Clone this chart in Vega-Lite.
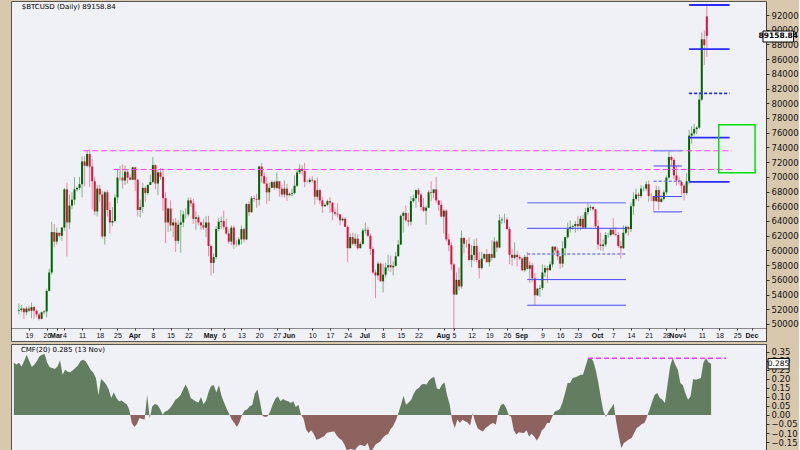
{
"$schema":"https://vega.github.io/schema/vega-lite/v6.json",
"background":"#d8c8ad",
"padding":{"left":10,"top":0,"right":0,"bottom":0},
"spacing":1,
"config":{"view":{"fill":"#f0f0f7","stroke":"#555555","strokeWidth":1},"axis":{"labelFont":"DejaVu Sans","labelColor":"#111111","grid":false,"labelOverlap":false,"labelFlush":false,"labelBound":false}},
"datasets":{"px":[
{"d":"2024-02-15","o":51800,"h":52800,"l":51300,"c":51900,"m":0.29},
{"d":"2024-02-16","o":51900,"h":52600,"l":51600,"c":52100,"m":0.28},
{"d":"2024-02-17","o":52100,"h":52200,"l":50700,"c":51600,"m":0.29},
{"d":"2024-02-18","o":51600,"h":52400,"l":51200,"c":52100,"m":0.27},
{"d":"2024-02-19","o":52100,"h":52500,"l":51600,"c":51800,"m":0.30},
{"d":"2024-02-20","o":51800,"h":52900,"l":50800,"c":52300,"m":0.335},
{"d":"2024-02-21","o":52300,"h":52400,"l":50700,"c":51800,"m":0.30},
{"d":"2024-02-22","o":51800,"h":52000,"l":50900,"c":51300,"m":0.267},
{"d":"2024-02-23","o":51300,"h":51500,"l":50500,"c":50700,"m":0.28},
{"d":"2024-02-24","o":50700,"h":51700,"l":50600,"c":51600,"m":0.30},
{"d":"2024-02-25","o":51600,"h":51900,"l":51300,"c":51700,"m":0.326},
{"d":"2024-02-26","o":51700,"h":54800,"l":50900,"c":54500,"m":0.335},
{"d":"2024-02-27","o":54500,"h":57500,"l":54400,"c":57000,"m":0.339},
{"d":"2024-02-28","o":57000,"h":63900,"l":56700,"c":62500,"m":0.29},
{"d":"2024-02-29","o":62500,"h":63600,"l":60400,"c":61200,"m":0.265},
{"d":"2024-03-01","o":61200,"h":63100,"l":60800,"c":62400,"m":0.261},
{"d":"2024-03-02","o":62400,"h":62400,"l":61700,"c":62000,"m":0.256},
{"d":"2024-03-03","o":62000,"h":63200,"l":61300,"c":63100,"m":0.27},
{"d":"2024-03-04","o":63100,"h":68500,"l":62700,"c":68300,"m":0.304},
{"d":"2024-03-05","o":68300,"h":69200,"l":59200,"c":63800,"m":0.224},
{"d":"2024-03-06","o":63800,"h":67600,"l":62900,"c":66100,"m":0.252},
{"d":"2024-03-07","o":66100,"h":67900,"l":65600,"c":66900,"m":0.24},
{"d":"2024-03-08","o":66900,"h":70000,"l":66200,"c":68300,"m":0.237},
{"d":"2024-03-09","o":68300,"h":68600,"l":68000,"c":68500,"m":0.248},
{"d":"2024-03-10","o":68500,"h":70000,"l":68200,"c":69000,"m":0.261},
{"d":"2024-03-11","o":69000,"h":72800,"l":67200,"c":72100,"m":0.275},
{"d":"2024-03-12","o":72100,"h":72800,"l":68700,"c":71500,"m":0.30},
{"d":"2024-03-13","o":71500,"h":73600,"l":71300,"c":73100,"m":0.307},
{"d":"2024-03-14","o":73100,"h":73750,"l":68600,"c":71400,"m":0.298},
{"d":"2024-03-15","o":71400,"h":72400,"l":65600,"c":69400,"m":0.275},
{"d":"2024-03-16","o":69400,"h":70000,"l":64800,"c":65300,"m":0.25},
{"d":"2024-03-17","o":65300,"h":68900,"l":64600,"c":68400,"m":0.235},
{"d":"2024-03-18","o":68400,"h":68900,"l":66600,"c":67600,"m":0.206},
{"d":"2024-03-19","o":67600,"h":68100,"l":61600,"c":61900,"m":0.11},
{"d":"2024-03-20","o":61900,"h":68100,"l":60800,"c":67900,"m":0.20},
{"d":"2024-03-21","o":67900,"h":68200,"l":64600,"c":65500,"m":0.187},
{"d":"2024-03-22","o":65500,"h":66600,"l":62300,"c":63800,"m":0.169},
{"d":"2024-03-23","o":63800,"h":65900,"l":63300,"c":64000,"m":0.141},
{"d":"2024-03-24","o":64000,"h":67600,"l":63800,"c":67200,"m":0.094},
{"d":"2024-03-25","o":67200,"h":71100,"l":66400,"c":69900,"m":0.126},
{"d":"2024-03-26","o":69900,"h":71500,"l":69500,"c":69900,"m":0.094},
{"d":"2024-03-27","o":69900,"h":71700,"l":68400,"c":69500,"m":0.076},
{"d":"2024-03-28","o":69500,"h":71500,"l":68900,"c":70700,"m":0.08},
{"d":"2024-03-29","o":70700,"h":70900,"l":69100,"c":69900,"m":0.07},
{"d":"2024-03-30","o":69900,"h":70300,"l":69600,"c":69600,"m":0.06},
{"d":"2024-03-31","o":69600,"h":71300,"l":69600,"c":71300,"m":0.03},
{"d":"2024-04-01","o":71300,"h":71300,"l":68100,"c":69600,"m":-0.045},
{"d":"2024-04-02","o":69600,"h":69700,"l":64600,"c":65500,"m":-0.067},
{"d":"2024-04-03","o":65500,"h":66900,"l":64500,"c":65900,"m":-0.05},
{"d":"2024-04-04","o":65900,"h":69200,"l":65100,"c":68500,"m":-0.017},
{"d":"2024-04-05","o":68500,"h":68700,"l":66600,"c":67800,"m":-0.022},
{"d":"2024-04-06","o":67800,"h":69000,"l":67500,"c":68900,"m":-0.025},
{"d":"2024-04-07","o":68900,"h":70300,"l":68900,"c":69300,"m":0.113},
{"d":"2024-04-08","o":69300,"h":72700,"l":69100,"c":71600,"m":-0.02},
{"d":"2024-04-09","o":71600,"h":71700,"l":68300,"c":69100,"m":0.048},
{"d":"2024-04-10","o":69100,"h":71000,"l":67500,"c":70600,"m":0.061},
{"d":"2024-04-11","o":70600,"h":71200,"l":69600,"c":70000,"m":0.055},
{"d":"2024-04-12","o":70000,"h":71200,"l":65400,"c":67100,"m":0.035},
{"d":"2024-04-13","o":67100,"h":67900,"l":61000,"c":63800,"m":0.002},
{"d":"2024-04-14","o":63800,"h":65800,"l":62500,"c":65700,"m":0.02},
{"d":"2024-04-15","o":65700,"h":66800,"l":62600,"c":63400,"m":0.025},
{"d":"2024-04-16","o":63400,"h":64300,"l":61800,"c":63800,"m":0.04},
{"d":"2024-04-17","o":63800,"h":64400,"l":59800,"c":61300,"m":0.06},
{"d":"2024-04-18","o":61300,"h":64100,"l":60900,"c":63500,"m":0.085},
{"d":"2024-04-19","o":63500,"h":65500,"l":59700,"c":63800,"m":0.094},
{"d":"2024-04-20","o":63800,"h":65400,"l":63200,"c":64900,"m":0.11},
{"d":"2024-04-21","o":64900,"h":65700,"l":64300,"c":64900,"m":0.14},
{"d":"2024-04-22","o":64900,"h":67200,"l":64600,"c":66800,"m":0.169},
{"d":"2024-04-23","o":66800,"h":67200,"l":65900,"c":66400,"m":0.14},
{"d":"2024-04-24","o":66400,"h":67000,"l":63600,"c":64300,"m":0.094},
{"d":"2024-04-25","o":64300,"h":65300,"l":62800,"c":64500,"m":0.085},
{"d":"2024-04-26","o":64500,"h":64800,"l":63400,"c":63800,"m":0.075},
{"d":"2024-04-27","o":63800,"h":63900,"l":62800,"c":63400,"m":0.07},
{"d":"2024-04-28","o":63400,"h":64300,"l":62800,"c":63100,"m":0.1},
{"d":"2024-04-29","o":63100,"h":64700,"l":61800,"c":63800,"m":0.06},
{"d":"2024-04-30","o":63800,"h":64700,"l":59200,"c":60600,"m":0.08},
{"d":"2024-05-01","o":60600,"h":60800,"l":56600,"c":58300,"m":0.13},
{"d":"2024-05-02","o":58300,"h":59600,"l":56900,"c":59100,"m":0.162},
{"d":"2024-05-03","o":59100,"h":63300,"l":58800,"c":62900,"m":0.165},
{"d":"2024-05-04","o":62900,"h":64400,"l":62600,"c":63900,"m":0.125},
{"d":"2024-05-05","o":63900,"h":64600,"l":62900,"c":64000,"m":0.165},
{"d":"2024-05-06","o":64000,"h":65400,"l":62800,"c":63200,"m":0.105},
{"d":"2024-05-07","o":63200,"h":64300,"l":62100,"c":62300,"m":0.07},
{"d":"2024-05-08","o":62300,"h":62900,"l":60900,"c":61200,"m":0.035},
{"d":"2024-05-09","o":61200,"h":63400,"l":60700,"c":63100,"m":0.005},
{"d":"2024-05-10","o":63100,"h":63400,"l":60200,"c":60800,"m":-0.025},
{"d":"2024-05-11","o":60800,"h":61400,"l":60500,"c":60800,"m":-0.044},
{"d":"2024-05-12","o":60800,"h":61800,"l":60600,"c":61500,"m":-0.067},
{"d":"2024-05-13","o":61500,"h":63400,"l":60800,"c":62900,"m":-0.04},
{"d":"2024-05-14","o":62900,"h":63100,"l":61100,"c":61500,"m":0.0},
{"d":"2024-05-15","o":61500,"h":66400,"l":61400,"c":66300,"m":0.025},
{"d":"2024-05-16","o":66300,"h":66700,"l":64700,"c":65200,"m":0.03},
{"d":"2024-05-17","o":65200,"h":67400,"l":65100,"c":67100,"m":0.048},
{"d":"2024-05-18","o":67100,"h":67400,"l":66600,"c":67000,"m":0.055},
{"d":"2024-05-19","o":67000,"h":67700,"l":65800,"c":66900,"m":0.12},
{"d":"2024-05-20","o":66900,"h":71500,"l":66100,"c":71400,"m":0.141},
{"d":"2024-05-21","o":71400,"h":71900,"l":69200,"c":70100,"m":0.075},
{"d":"2024-05-22","o":70100,"h":70600,"l":69000,"c":69100,"m":-0.004},
{"d":"2024-05-23","o":69100,"h":70000,"l":66300,"c":67900,"m":-0.011},
{"d":"2024-05-24","o":67900,"h":69200,"l":66700,"c":68500,"m":-0.007},
{"d":"2024-05-25","o":68500,"h":69500,"l":68500,"c":69300,"m":0.02},
{"d":"2024-05-26","o":69300,"h":69500,"l":68200,"c":68500,"m":0.06},
{"d":"2024-05-27","o":68500,"h":70600,"l":68300,"c":69400,"m":0.09},
{"d":"2024-05-28","o":69400,"h":69400,"l":67300,"c":68400,"m":0.104},
{"d":"2024-05-29","o":68400,"h":68900,"l":67200,"c":67600,"m":0.076},
{"d":"2024-05-30","o":67600,"h":69500,"l":67200,"c":68400,"m":0.089},
{"d":"2024-05-31","o":68400,"h":69000,"l":66700,"c":67500,"m":0.081},
{"d":"2024-06-01","o":67500,"h":67900,"l":67400,"c":67700,"m":0.077},
{"d":"2024-06-02","o":67700,"h":68400,"l":67300,"c":67800,"m":0.067},
{"d":"2024-06-03","o":67800,"h":70200,"l":67600,"c":68800,"m":0.076},
{"d":"2024-06-04","o":68800,"h":71000,"l":68600,"c":70600,"m":0.044},
{"d":"2024-06-05","o":70600,"h":71700,"l":70400,"c":71100,"m":0.057},
{"d":"2024-06-06","o":71100,"h":71600,"l":70200,"c":70800,"m":0.002},
{"d":"2024-06-07","o":70800,"h":71900,"l":68600,"c":69300,"m":-0.02},
{"d":"2024-06-08","o":69300,"h":69600,"l":69200,"c":69300,"m":-0.08},
{"d":"2024-06-09","o":69300,"h":69900,"l":69100,"c":69600,"m":-0.1},
{"d":"2024-06-10","o":69600,"h":70100,"l":69200,"c":69500,"m":-0.085},
{"d":"2024-06-11","o":69500,"h":69500,"l":66200,"c":67300,"m":-0.105},
{"d":"2024-06-12","o":67300,"h":69900,"l":66900,"c":68200,"m":-0.137},
{"d":"2024-06-13","o":68200,"h":68400,"l":66300,"c":66800,"m":-0.133},
{"d":"2024-06-14","o":66800,"h":67300,"l":65100,"c":66000,"m":-0.125},
{"d":"2024-06-15","o":66000,"h":66400,"l":65900,"c":66200,"m":-0.119},
{"d":"2024-06-16","o":66200,"h":66900,"l":66000,"c":66700,"m":-0.1},
{"d":"2024-06-17","o":66700,"h":67200,"l":65100,"c":66500,"m":-0.096},
{"d":"2024-06-18","o":66500,"h":66500,"l":64100,"c":65200,"m":-0.093},
{"d":"2024-06-19","o":65200,"h":65700,"l":64700,"c":65000,"m":-0.091},
{"d":"2024-06-20","o":65000,"h":66400,"l":64500,"c":64900,"m":-0.115},
{"d":"2024-06-21","o":64900,"h":65000,"l":63400,"c":64100,"m":-0.13},
{"d":"2024-06-22","o":64100,"h":64500,"l":63900,"c":64300,"m":-0.14},
{"d":"2024-06-23","o":64300,"h":64500,"l":63200,"c":63200,"m":-0.165},
{"d":"2024-06-24","o":63200,"h":63400,"l":58400,"c":60300,"m":-0.202},
{"d":"2024-06-25","o":60300,"h":62300,"l":60300,"c":61800,"m":-0.189},
{"d":"2024-06-26","o":61800,"h":62400,"l":60700,"c":60900,"m":-0.19},
{"d":"2024-06-27","o":60900,"h":62300,"l":60600,"c":61600,"m":-0.196},
{"d":"2024-06-28","o":61600,"h":62200,"l":60100,"c":60300,"m":-0.178},
{"d":"2024-06-29","o":60300,"h":61200,"l":60300,"c":60900,"m":-0.165},
{"d":"2024-06-30","o":60900,"h":63000,"l":60700,"c":62700,"m":-0.17},
{"d":"2024-07-01","o":62700,"h":63800,"l":62300,"c":62800,"m":-0.174},
{"d":"2024-07-02","o":62800,"h":63200,"l":61800,"c":62000,"m":-0.156},
{"d":"2024-07-03","o":62000,"h":62300,"l":59400,"c":60200,"m":-0.2},
{"d":"2024-07-04","o":60200,"h":60500,"l":56800,"c":57000,"m":-0.19},
{"d":"2024-07-05","o":57000,"h":57400,"l":53500,"c":56600,"m":-0.165},
{"d":"2024-07-06","o":56600,"h":58500,"l":56000,"c":58200,"m":-0.156},
{"d":"2024-07-07","o":58200,"h":58400,"l":55800,"c":55800,"m":-0.146},
{"d":"2024-07-08","o":55800,"h":58200,"l":54300,"c":56700,"m":-0.125},
{"d":"2024-07-09","o":56700,"h":58300,"l":56300,"c":57700,"m":-0.112},
{"d":"2024-07-10","o":57700,"h":59400,"l":57200,"c":58000,"m":-0.105},
{"d":"2024-07-11","o":58000,"h":59300,"l":57100,"c":57700,"m":-0.078},
{"d":"2024-07-12","o":57700,"h":58500,"l":56600,"c":57900,"m":-0.06},
{"d":"2024-07-13","o":57900,"h":59800,"l":57800,"c":59200,"m":-0.03},
{"d":"2024-07-14","o":59200,"h":61400,"l":59200,"c":60800,"m":0.01},
{"d":"2024-07-15","o":60800,"h":64900,"l":60700,"c":64700,"m":0.057},
{"d":"2024-07-16","o":64700,"h":65300,"l":62400,"c":65100,"m":0.107},
{"d":"2024-07-17","o":65100,"h":66100,"l":63900,"c":64100,"m":0.057},
{"d":"2024-07-18","o":64100,"h":65100,"l":63300,"c":63900,"m":0.07},
{"d":"2024-07-19","o":63900,"h":67400,"l":63400,"c":66700,"m":0.085},
{"d":"2024-07-20","o":66700,"h":67600,"l":66500,"c":67100,"m":0.12},
{"d":"2024-07-21","o":67100,"h":68300,"l":65800,"c":68200,"m":0.141},
{"d":"2024-07-22","o":68200,"h":68500,"l":66600,"c":67600,"m":0.15},
{"d":"2024-07-23","o":67600,"h":67800,"l":65400,"c":65900,"m":0.17},
{"d":"2024-07-24","o":65900,"h":67100,"l":65200,"c":65400,"m":0.172},
{"d":"2024-07-25","o":65400,"h":66100,"l":63500,"c":65800,"m":0.169},
{"d":"2024-07-26","o":65800,"h":68200,"l":65800,"c":67900,"m":0.193},
{"d":"2024-07-27","o":67900,"h":69400,"l":66700,"c":67800,"m":0.205},
{"d":"2024-07-28","o":67800,"h":68300,"l":67100,"c":68300,"m":0.211},
{"d":"2024-07-29","o":68300,"h":70000,"l":66500,"c":66800,"m":0.148},
{"d":"2024-07-30","o":66800,"h":66900,"l":65400,"c":66200,"m":0.141},
{"d":"2024-07-31","o":66200,"h":66800,"l":64500,"c":64600,"m":0.169},
{"d":"2024-08-01","o":64600,"h":65600,"l":62300,"c":65400,"m":0.181},
{"d":"2024-08-02","o":65400,"h":65600,"l":61200,"c":61500,"m":0.11},
{"d":"2024-08-03","o":61500,"h":62200,"l":59900,"c":60700,"m":0.06},
{"d":"2024-08-04","o":60700,"h":61100,"l":57300,"c":58100,"m":-0.03},
{"d":"2024-08-05","o":58100,"h":58300,"l":49000,"c":54000,"m":-0.072},
{"d":"2024-08-06","o":54000,"h":57000,"l":54000,"c":56000,"m":-0.025},
{"d":"2024-08-07","o":56000,"h":57700,"l":54600,"c":55100,"m":-0.044},
{"d":"2024-08-08","o":55100,"h":62700,"l":54800,"c":61700,"m":-0.026},
{"d":"2024-08-09","o":61700,"h":61800,"l":59600,"c":60900,"m":-0.035},
{"d":"2024-08-10","o":60900,"h":61400,"l":60400,"c":60900,"m":-0.041},
{"d":"2024-08-11","o":60900,"h":61800,"l":58500,"c":58700,"m":-0.059},
{"d":"2024-08-12","o":58700,"h":60700,"l":57700,"c":59400,"m":0.011},
{"d":"2024-08-13","o":59400,"h":61500,"l":58500,"c":60600,"m":-0.04},
{"d":"2024-08-14","o":60600,"h":61700,"l":58400,"c":58700,"m":-0.075},
{"d":"2024-08-15","o":58700,"h":59800,"l":56200,"c":57600,"m":-0.085},
{"d":"2024-08-16","o":57600,"h":59800,"l":57400,"c":58900,"m":-0.091},
{"d":"2024-08-17","o":58900,"h":59600,"l":58800,"c":59500,"m":-0.072},
{"d":"2024-08-18","o":59500,"h":60200,"l":58400,"c":58400,"m":-0.063},
{"d":"2024-08-19","o":58400,"h":59600,"l":57800,"c":59500,"m":-0.05},
{"d":"2024-08-20","o":59500,"h":61400,"l":58600,"c":59000,"m":-0.044},
{"d":"2024-08-21","o":59000,"h":61800,"l":58900,"c":61200,"m":-0.054},
{"d":"2024-08-22","o":61200,"h":61400,"l":59800,"c":60400,"m":0.02},
{"d":"2024-08-23","o":60400,"h":64900,"l":60300,"c":64100,"m":0.055},
{"d":"2024-08-24","o":64100,"h":64500,"l":63600,"c":64200,"m":0.063},
{"d":"2024-08-25","o":64200,"h":65000,"l":63700,"c":64200,"m":0.04},
{"d":"2024-08-26","o":64200,"h":64500,"l":62800,"c":62900,"m":0.002},
{"d":"2024-08-27","o":62900,"h":63200,"l":58100,"c":59400,"m":-0.011},
{"d":"2024-08-28","o":59400,"h":60200,"l":57900,"c":59000,"m":-0.085},
{"d":"2024-08-29","o":59000,"h":61100,"l":58800,"c":59400,"m":-0.109},
{"d":"2024-08-30","o":59400,"h":59900,"l":57800,"c":59100,"m":-0.096},
{"d":"2024-08-31","o":59100,"h":59400,"l":58700,"c":58900,"m":-0.098},
{"d":"2024-09-01","o":58900,"h":59000,"l":57200,"c":57300,"m":-0.1},
{"d":"2024-09-02","o":57300,"h":59400,"l":57100,"c":59100,"m":-0.085},
{"d":"2024-09-03","o":59100,"h":59800,"l":57400,"c":57500,"m":-0.119},
{"d":"2024-09-04","o":57500,"h":58500,"l":55600,"c":58000,"m":-0.104},
{"d":"2024-09-05","o":58000,"h":58300,"l":55700,"c":56200,"m":-0.12},
{"d":"2024-09-06","o":56200,"h":56900,"l":52550,"c":53900,"m":-0.141},
{"d":"2024-09-07","o":53900,"h":54900,"l":53800,"c":54800,"m":-0.119},
{"d":"2024-09-08","o":54800,"h":55300,"l":53700,"c":54900,"m":-0.085},
{"d":"2024-09-09","o":54900,"h":58100,"l":54600,"c":57000,"m":-0.072},
{"d":"2024-09-10","o":57000,"h":58000,"l":56400,"c":57600,"m":-0.044},
{"d":"2024-09-11","o":57600,"h":57900,"l":55600,"c":57300,"m":-0.044},
{"d":"2024-09-12","o":57300,"h":58500,"l":57300,"c":58100,"m":-0.01},
{"d":"2024-09-13","o":58100,"h":60600,"l":57700,"c":60500,"m":0.02},
{"d":"2024-09-14","o":60500,"h":60600,"l":59600,"c":60000,"m":0.025},
{"d":"2024-09-15","o":60000,"h":60400,"l":58700,"c":59200,"m":0.033},
{"d":"2024-09-16","o":59200,"h":59200,"l":57500,"c":58200,"m":0.07},
{"d":"2024-09-17","o":58200,"h":61300,"l":57700,"c":60300,"m":0.12},
{"d":"2024-09-18","o":60300,"h":61800,"l":59200,"c":61800,"m":0.178},
{"d":"2024-09-19","o":61800,"h":63800,"l":61600,"c":62900,"m":0.178},
{"d":"2024-09-20","o":62900,"h":64100,"l":62400,"c":63200,"m":0.206},
{"d":"2024-09-21","o":63200,"h":63500,"l":62800,"c":63300,"m":0.21},
{"d":"2024-09-22","o":63300,"h":64000,"l":62400,"c":63600,"m":0.215},
{"d":"2024-09-23","o":63600,"h":64700,"l":62700,"c":63300,"m":0.224},
{"d":"2024-09-24","o":63300,"h":64700,"l":62700,"c":64300,"m":0.224},
{"d":"2024-09-25","o":64300,"h":64800,"l":62900,"c":63100,"m":0.27},
{"d":"2024-09-26","o":63100,"h":65800,"l":62900,"c":65200,"m":0.317},
{"d":"2024-09-27","o":65200,"h":66500,"l":64800,"c":65800,"m":0.317},
{"d":"2024-09-28","o":65800,"h":66200,"l":65400,"c":65900,"m":0.30},
{"d":"2024-09-29","o":65900,"h":66000,"l":65400,"c":65600,"m":0.25},
{"d":"2024-09-30","o":65600,"h":65600,"l":62900,"c":63300,"m":0.18},
{"d":"2024-10-01","o":63300,"h":64100,"l":60100,"c":60800,"m":0.094},
{"d":"2024-10-02","o":60800,"h":62400,"l":60000,"c":60600,"m":0.02},
{"d":"2024-10-03","o":60600,"h":61500,"l":59900,"c":60800,"m":-0.011},
{"d":"2024-10-04","o":60800,"h":62500,"l":60500,"c":62100,"m":0.02},
{"d":"2024-10-05","o":62100,"h":62400,"l":61700,"c":62100,"m":0.039},
{"d":"2024-10-06","o":62100,"h":62900,"l":61900,"c":62800,"m":0.063},
{"d":"2024-10-07","o":62800,"h":64400,"l":62100,"c":62200,"m":-0.04},
{"d":"2024-10-08","o":62200,"h":63200,"l":61900,"c":62100,"m":-0.12},
{"d":"2024-10-09","o":62100,"h":62500,"l":60400,"c":60600,"m":-0.183},
{"d":"2024-10-10","o":60600,"h":61300,"l":58900,"c":60300,"m":-0.156},
{"d":"2024-10-11","o":60300,"h":63400,"l":60200,"c":62400,"m":-0.146},
{"d":"2024-10-12","o":62400,"h":63400,"l":62200,"c":63200,"m":-0.135},
{"d":"2024-10-13","o":63200,"h":63300,"l":62000,"c":62900,"m":-0.128},
{"d":"2024-10-14","o":62900,"h":66500,"l":62500,"c":66000,"m":-0.1},
{"d":"2024-10-15","o":66000,"h":67900,"l":64800,"c":67000,"m":-0.072},
{"d":"2024-10-16","o":67000,"h":68400,"l":66800,"c":67600,"m":-0.063},
{"d":"2024-10-17","o":67600,"h":67900,"l":66700,"c":67400,"m":-0.05},
{"d":"2024-10-18","o":67400,"h":68900,"l":67100,"c":68400,"m":-0.044},
{"d":"2024-10-19","o":68400,"h":68700,"l":68000,"c":68400,"m":-0.01},
{"d":"2024-10-20","o":68400,"h":69400,"l":68100,"c":69000,"m":0.03},
{"d":"2024-10-21","o":69000,"h":69500,"l":66600,"c":67400,"m":0.075},
{"d":"2024-10-22","o":67400,"h":67800,"l":66700,"c":67400,"m":0.113},
{"d":"2024-10-23","o":67400,"h":67400,"l":65300,"c":66700,"m":0.122},
{"d":"2024-10-24","o":66700,"h":68800,"l":66600,"c":68200,"m":0.095},
{"d":"2024-10-25","o":68200,"h":68700,"l":65500,"c":66600,"m":0.085},
{"d":"2024-10-26","o":66600,"h":67500,"l":66500,"c":67000,"m":0.067},
{"d":"2024-10-27","o":67000,"h":68200,"l":66800,"c":67900,"m":0.17},
{"d":"2024-10-28","o":67900,"h":70200,"l":67600,"c":69900,"m":0.27},
{"d":"2024-10-29","o":69900,"h":73600,"l":69700,"c":72700,"m":0.317},
{"d":"2024-10-30","o":72700,"h":72900,"l":71400,"c":72300,"m":0.28},
{"d":"2024-10-31","o":72300,"h":72600,"l":69700,"c":70200,"m":0.252},
{"d":"2024-11-01","o":70200,"h":71600,"l":68800,"c":69500,"m":0.178},
{"d":"2024-11-02","o":69500,"h":70000,"l":69000,"c":69300,"m":0.165},
{"d":"2024-11-03","o":69300,"h":69400,"l":67500,"c":68800,"m":0.12},
{"d":"2024-11-04","o":68800,"h":69000,"l":66800,"c":67800,"m":0.085},
{"d":"2024-11-05","o":67800,"h":70500,"l":67500,"c":69400,"m":0.104},
{"d":"2024-11-06","o":69400,"h":76400,"l":69000,"c":75600,"m":0.2},
{"d":"2024-11-07","o":75600,"h":76900,"l":74500,"c":75900,"m":0.196},
{"d":"2024-11-08","o":75900,"h":77200,"l":75600,"c":76500,"m":0.2},
{"d":"2024-11-09","o":76500,"h":76900,"l":75800,"c":76700,"m":0.206},
{"d":"2024-11-10","o":76700,"h":81500,"l":76500,"c":80500,"m":0.29},
{"d":"2024-11-11","o":80500,"h":89600,"l":80300,"c":88700,"m":0.317},
{"d":"2024-11-12","o":88700,"h":89900,"l":85200,"c":87900,"m":0.293},
{"d":"2024-11-13","o":91800,"h":93400,"l":86300,"c":89159,"m":0.285}
],
"lines":[
{"k":"res","d1":"2024-03-11T12:00:00Z","d2":"2024-11-22T20:00:00Z","p":73550},
{"k":"res","d1":"2024-03-23T12:00:00Z","d2":"2024-11-22T20:00:00Z","p":71000},
{"k":"fibtop","d1":"2024-09-03T00:00:00Z","d2":"2024-10-12T00:00:00Z","p":66490},
{"k":"fib","d1":"2024-09-03T00:00:00Z","d2":"2024-10-12T00:00:00Z","p":63005},
{"k":"fibmid","d1":"2024-09-03T00:00:00Z","d2":"2024-10-12T00:00:00Z","p":59520},
{"k":"fib","d1":"2024-09-03T00:00:00Z","d2":"2024-10-12T00:00:00Z","p":56035},
{"k":"fib","d1":"2024-09-03T00:00:00Z","d2":"2024-10-12T00:00:00Z","p":52550},
{"k":"fibtop","d1":"2024-10-23T00:00:00Z","d2":"2024-11-03T04:00:00Z","p":73560},
{"k":"fib","d1":"2024-10-23T00:00:00Z","d2":"2024-11-03T04:00:00Z","p":71480},
{"k":"fibmid","d1":"2024-10-23T00:00:00Z","d2":"2024-11-03T04:00:00Z","p":69400},
{"k":"fib","d1":"2024-10-23T00:00:00Z","d2":"2024-11-03T04:00:00Z","p":67320},
{"k":"fib","d1":"2024-10-23T00:00:00Z","d2":"2024-11-03T04:00:00Z","p":65240},
{"k":"fib2","d1":"2024-11-06T00:00:00Z","d2":"2024-11-22T00:00:00Z","p":93360},
{"k":"fib2","d1":"2024-11-06T00:00:00Z","d2":"2024-11-22T00:00:00Z","p":87350},
{"k":"fib2mid","d1":"2024-11-06T00:00:00Z","d2":"2024-11-22T00:00:00Z","p":81340},
{"k":"fib2","d1":"2024-11-06T00:00:00Z","d2":"2024-11-22T00:00:00Z","p":75330},
{"k":"fib2","d1":"2024-11-06T00:00:00Z","d2":"2024-11-22T00:00:00Z","p":69320}
]},
"vconcat":[
{"width":755,"height":340,
"layer":[
{"data":{"name":"px"},"mark":{"type":"rule","strokeWidth":1,"opacity":0.45},
"encoding":{
"x":{"field":"d","type":"temporal","title":null,"scale":{"type":"utc","domain":["2024-02-13T21:00:00Z","2024-12-04T10:00:00Z"]},
"axis":{"orient":"bottom","offset":-13,"tickCount":200,"labelFont":"Liberation Sans","labelFontSize":7,"labelPadding":1,"tickSize":2,"tickColor":"#333","domainDash":[1,1],"domainColor":"#222","labelOverlap":false,"labelFlush":false,"labelBound":false,"labelBaseline":"top","labelAlign":"center",
"values":[{"year":2024,"month":2,"date":19,"utc":true},{"year":2024,"month":2,"date":26,"utc":true},{"year":2024,"month":3,"date":1,"utc":true},{"year":2024,"month":3,"date":4,"utc":true},{"year":2024,"month":3,"date":11,"utc":true},{"year":2024,"month":3,"date":18,"utc":true},{"year":2024,"month":3,"date":25,"utc":true},{"year":2024,"month":4,"date":1,"utc":true},{"year":2024,"month":4,"date":8,"utc":true},{"year":2024,"month":4,"date":15,"utc":true},{"year":2024,"month":4,"date":22,"utc":true},{"year":2024,"month":5,"date":1,"utc":true},{"year":2024,"month":5,"date":6,"utc":true},{"year":2024,"month":5,"date":13,"utc":true},{"year":2024,"month":5,"date":20,"utc":true},{"year":2024,"month":5,"date":27,"utc":true},{"year":2024,"month":6,"date":1,"utc":true},{"year":2024,"month":6,"date":10,"utc":true},{"year":2024,"month":6,"date":17,"utc":true},{"year":2024,"month":6,"date":24,"utc":true},{"year":2024,"month":7,"date":1,"utc":true},{"year":2024,"month":7,"date":8,"utc":true},{"year":2024,"month":7,"date":15,"utc":true},{"year":2024,"month":7,"date":22,"utc":true},{"year":2024,"month":8,"date":1,"utc":true},{"year":2024,"month":8,"date":5,"utc":true},{"year":2024,"month":8,"date":12,"utc":true},{"year":2024,"month":8,"date":19,"utc":true},{"year":2024,"month":8,"date":26,"utc":true},{"year":2024,"month":9,"date":1,"utc":true},{"year":2024,"month":9,"date":9,"utc":true},{"year":2024,"month":9,"date":16,"utc":true},{"year":2024,"month":9,"date":23,"utc":true},{"year":2024,"month":10,"date":1,"utc":true},{"year":2024,"month":10,"date":7,"utc":true},{"year":2024,"month":10,"date":14,"utc":true},{"year":2024,"month":10,"date":21,"utc":true},{"year":2024,"month":10,"date":28,"utc":true},{"year":2024,"month":11,"date":1,"utc":true},{"year":2024,"month":11,"date":4,"utc":true},{"year":2024,"month":11,"date":11,"utc":true},{"year":2024,"month":11,"date":18,"utc":true},{"year":2024,"month":11,"date":25,"utc":true},{"year":2024,"month":12,"date":1,"utc":true}],
"labelExpr":"utcdate(datum.value) == 1 ? utcFormat(datum.value, '%b') : utcFormat(datum.value, '%-d')",
"labelOffset":{"condition":{"test":"utcdate(datum.value) == 1","value":-1},"value":0},
"labelFontWeight":{"condition":{"test":"utcdate(datum.value) == 1","value":"bold"},"value":"normal"}}},
"y":{"field":"l","type":"quantitative","title":null,"scale":{"domain":[47689,93903],"nice":false,"zero":false},
"axis":{"orient":"right","tickCount":200,"values":[50000,52000,54000,56000,58000,60000,62000,64000,66000,68000,70000,72000,74000,76000,78000,80000,82000,84000,86000,88000,90000,92000],"format":"d","labelFontSize":8.5,"tickSize":3,"labelPadding":2,"labelOverlap":false,"labelBound":false,"domainDash":[1,1],"domainColor":"#222","tickColor":"#333"}},
"y2":{"field":"h"},
"color":{"condition":{"test":"datum.c >= datum.o","value":"#006400"},"value":"#dc143c"}}},
{"data":{"name":"px"},"mark":{"type":"bar","size":2},
"encoding":{
"x":{"field":"d","type":"temporal","title":null,"scale":{"type":"utc","domain":["2024-02-13T21:00:00Z","2024-12-04T10:00:00Z"]}},
"y":{"field":"o","type":"quantitative","title":null,"scale":{"domain":[47689,93903],"nice":false,"zero":false}},
"y2":{"field":"c"},
"color":{"condition":{"test":"datum.c >= datum.o","value":"#006400"},"value":"#dc143c"}}},
{"data":{"name":"px"},"transform":[{"filter":"datum.d == '2024-11-13'"}],"mark":{"type":"bar","size":3,"fill":"#e0401a","stroke":"#ffd000","strokeWidth":1},
"encoding":{
"x":{"field":"d","type":"temporal","title":null,"scale":{"type":"utc","domain":["2024-02-13T21:00:00Z","2024-12-04T10:00:00Z"]}},
"y":{"field":"o","type":"quantitative","title":null,"scale":{"domain":[47689,93903],"nice":false,"zero":false}},
"y2":{"field":"c"}}},
{"data":{"name":"lines"},"transform":[{"filter":"datum.k == 'res'"}],
"mark":{"type":"rule","color":"#ff40ff","strokeWidth":1.2,"strokeDash":[6,3]},
"encoding":{
"x":{"field":"d1","type":"temporal","title":null,"scale":{"type":"utc","domain":["2024-02-13T21:00:00Z","2024-12-04T10:00:00Z"]}},
"x2":{"field":"d2"},
"y":{"field":"p","type":"quantitative","title":null,"scale":{"domain":[47689,93903],"nice":false,"zero":false}}}},
{"data":{"name":"lines"},"transform":[{"filter":"datum.k == 'fib'"}],
"mark":{"type":"rule","color":"#4646ff","strokeWidth":1},
"encoding":{
"x":{"field":"d1","type":"temporal","title":null,"scale":{"type":"utc","domain":["2024-02-13T21:00:00Z","2024-12-04T10:00:00Z"]}},
"x2":{"field":"d2"},
"y":{"field":"p","type":"quantitative","title":null,"scale":{"domain":[47689,93903],"nice":false,"zero":false}}}},
{"data":{"name":"lines"},"transform":[{"filter":"datum.k == 'fibtop'"}],
"mark":{"type":"rule","color":"#9292f2","strokeWidth":1.6},
"encoding":{
"x":{"field":"d1","type":"temporal","title":null,"scale":{"type":"utc","domain":["2024-02-13T21:00:00Z","2024-12-04T10:00:00Z"]}},
"x2":{"field":"d2"},
"y":{"field":"p","type":"quantitative","title":null,"scale":{"domain":[47689,93903],"nice":false,"zero":false}}}},
{"data":{"name":"lines"},"transform":[{"filter":"datum.k == 'fibmid'"}],
"mark":{"type":"rule","color":"#8080ff","strokeWidth":1.6,"strokeDash":[3,2]},
"encoding":{
"x":{"field":"d1","type":"temporal","title":null,"scale":{"type":"utc","domain":["2024-02-13T21:00:00Z","2024-12-04T10:00:00Z"]}},
"x2":{"field":"d2"},
"y":{"field":"p","type":"quantitative","title":null,"scale":{"domain":[47689,93903],"nice":false,"zero":false}}}},
{"data":{"name":"lines"},"transform":[{"filter":"datum.k == 'fib2'"}],
"mark":{"type":"rule","color":"#2a2aff","strokeWidth":1.8},
"encoding":{
"x":{"field":"d1","type":"temporal","title":null,"scale":{"type":"utc","domain":["2024-02-13T21:00:00Z","2024-12-04T10:00:00Z"]}},
"x2":{"field":"d2"},
"y":{"field":"p","type":"quantitative","title":null,"scale":{"domain":[47689,93903],"nice":false,"zero":false}}}},
{"data":{"name":"lines"},"transform":[{"filter":"datum.k == 'fib2mid'"}],
"mark":{"type":"rule","color":"#2a2aff","strokeWidth":1.8,"strokeDash":[3,2]},
"encoding":{
"x":{"field":"d1","type":"temporal","title":null,"scale":{"type":"utc","domain":["2024-02-13T21:00:00Z","2024-12-04T10:00:00Z"]}},
"x2":{"field":"d2"},
"y":{"field":"p","type":"quantitative","title":null,"scale":{"domain":[47689,93903],"nice":false,"zero":false}}}},
{"data":{"values":[{"d1":"2024-11-17T17:00:00Z","d2":"2024-12-02T02:00:00Z","p1":77090,"p2":70560}]},
"mark":{"type":"rect","fill":"transparent","stroke":"#00e000","strokeWidth":1.5},
"encoding":{
"x":{"field":"d1","type":"temporal","title":null,"scale":{"type":"utc","domain":["2024-02-13T21:00:00Z","2024-12-04T10:00:00Z"]}},
"x2":{"field":"d2"},
"y":{"field":"p1","type":"quantitative","title":null,"scale":{"domain":[47689,93903],"nice":false,"zero":false}},
"y2":{"field":"p2"}}},
{"data":{"values":[{"d1":"2024-12-05T05:00:00Z","d2":"2024-12-17T07:00:00Z","p1":89825,"p2":88330}]},
"mark":{"type":"rect","fill":"#ffffff","stroke":"#000000","strokeWidth":1},
"encoding":{
"x":{"field":"d1","type":"temporal","title":null,"scale":{"type":"utc","domain":["2024-02-13T21:00:00Z","2024-12-04T10:00:00Z"]}},
"x2":{"field":"d2"},
"y":{"field":"p1","type":"quantitative","title":null,"scale":{"domain":[47689,93903],"nice":false,"zero":false}},
"y2":{"field":"p2"}}},
{"data":{"values":[{"d":"2024-12-11T06:00:00Z","p":89080,"t":"89158.84"}]},
"mark":{"type":"text","font":"DejaVu Sans","fontSize":7.5,"fontWeight":"bold","align":"center","baseline":"middle","color":"#000000"},
"encoding":{
"x":{"field":"d","type":"temporal","title":null,"scale":{"type":"utc","domain":["2024-02-13T21:00:00Z","2024-12-04T10:00:00Z"]}},
"y":{"field":"p","type":"quantitative","title":null,"scale":{"domain":[47689,93903],"nice":false,"zero":false}},
"text":{"field":"t"}}},
{"data":{"values":[{"d":"2024-02-16T03:00:00Z","p":93150,"t":"$BTCUSD (Daily) 89158.84"}]},
"mark":{"type":"text","font":"DejaVu Sans","fontSize":7,"align":"left","baseline":"middle","color":"#000000"},
"encoding":{
"x":{"field":"d","type":"temporal","title":null,"scale":{"type":"utc","domain":["2024-02-13T21:00:00Z","2024-12-04T10:00:00Z"]}},
"y":{"field":"p","type":"quantitative","title":null,"scale":{"domain":[47689,93903],"nice":false,"zero":false}},
"text":{"field":"t"}}}
]},
{"width":755,"height":109,
"layer":[
{"data":{"name":"px"},
"mark":{"type":"area","color":{"gradient":"linear","x1":0,"y1":0,"x2":0,"y2":1,"stops":[{"offset":0,"color":"#627d5f"},{"offset":0.6266,"color":"#627d5f"},{"offset":0.6266,"color":"#8e635f"},{"offset":1,"color":"#8e635f"}]}},
"encoding":{
"x":{"field":"d","type":"temporal","title":null,"axis":null,"scale":{"type":"utc","domain":["2024-02-13T21:00:00Z","2024-12-04T10:00:00Z"]}},
"y":{"field":"m","type":"quantitative","title":null,"scale":{"domain":[-0.2111,0.3944],"nice":false,"zero":false},
"axis":{"orient":"right","tickCount":200,"values":[-0.15,-0.1,-0.05,0,0.05,0.1,0.15,0.2,0.25,0.3,0.35],"format":".2f","labelFontSize":8.5,"tickSize":3,"labelPadding":2,"labelOverlap":false,"labelBound":false,"domainDash":[1,1],"domainColor":"#222","tickColor":"#333"}},
"y2":{"datum":0}}},
{"mark":{"type":"rule","color":"#000000","strokeWidth":1},
"encoding":{"y":{"datum":0,"type":"quantitative","scale":{"domain":[-0.2111,0.3944],"nice":false,"zero":false}}}},
{"data":{"values":[{"d1":"2024-09-26T00:00:00Z","d2":"2024-11-18T20:00:00Z","v":0.315}]},
"mark":{"type":"rule","color":"#ff33ff","strokeWidth":1.5,"strokeDash":[5,3]},
"encoding":{
"x":{"field":"d1","type":"temporal","title":null,"axis":null,"scale":{"type":"utc","domain":["2024-02-13T21:00:00Z","2024-12-04T10:00:00Z"]}},
"x2":{"field":"d2"},
"y":{"field":"v","type":"quantitative","title":null,"scale":{"domain":[-0.2111,0.3944],"nice":false,"zero":false}}}},
{"data":{"values":[{"d1":"2024-12-05T05:00:00Z","d2":"2024-12-13T10:00:00Z","v1":0.314,"v2":0.256}]},
"mark":{"type":"rect","fill":"#ffffff","stroke":"#000000","strokeWidth":1},
"encoding":{
"x":{"field":"d1","type":"temporal","title":null,"axis":null,"scale":{"type":"utc","domain":["2024-02-13T21:00:00Z","2024-12-04T10:00:00Z"]}},
"x2":{"field":"d2"},
"y":{"field":"v1","type":"quantitative","title":null,"scale":{"domain":[-0.2111,0.3944],"nice":false,"zero":false}},
"y2":{"field":"v2"}}},
{"data":{"values":[{"d":"2024-12-09T07:00:00Z","v":0.285,"t":"0.285"}]},
"mark":{"type":"text","font":"DejaVu Sans","fontSize":7.5,"align":"center","baseline":"middle","color":"#000000"},
"encoding":{
"x":{"field":"d","type":"temporal","title":null,"axis":null,"scale":{"type":"utc","domain":["2024-02-13T21:00:00Z","2024-12-04T10:00:00Z"]}},
"y":{"field":"v","type":"quantitative","title":null,"scale":{"domain":[-0.2111,0.3944],"nice":false,"zero":false}},
"text":{"field":"t"}}},
{"data":{"values":[{"d":"2024-02-17T18:00:00Z","v":0.361,"t":"CMF(20) 0.285 (13 Nov)"}]},
"mark":{"type":"text","font":"DejaVu Sans","fontSize":7,"align":"left","baseline":"middle","color":"#000000"},
"encoding":{
"x":{"field":"d","type":"temporal","title":null,"axis":null,"scale":{"type":"utc","domain":["2024-02-13T21:00:00Z","2024-12-04T10:00:00Z"]}},
"y":{"field":"v","type":"quantitative","title":null,"scale":{"domain":[-0.2111,0.3944],"nice":false,"zero":false}},
"text":{"field":"t"}}}
]}
]
}
